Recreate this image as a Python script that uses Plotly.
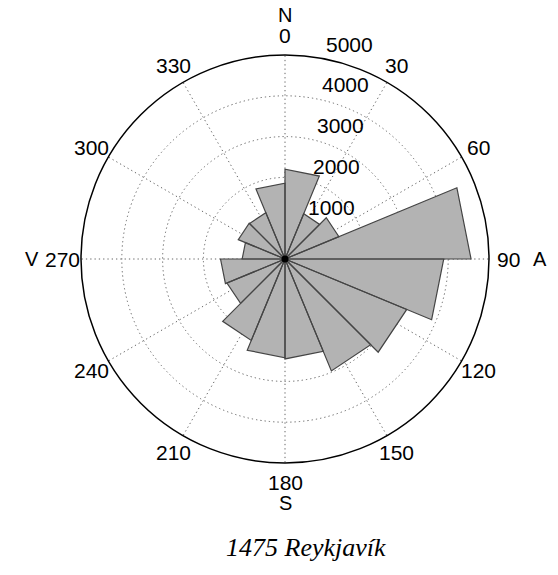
import math
import plotly.graph_objects as go

# Wind-rose data: 16 sectors of 22.5 deg, starting at north, clockwise
sector_start = [0, 22.5, 45, 67.5, 90, 112.5, 135, 157.5,
                180, 202.5, 225, 247.5, 270, 292.5, 315, 337.5]
sector_width = 22.5
counts = [2200, 1200, 1430, 4560, 3890, 3230, 2970, 2450,
          2420, 2160, 1540, 1580, 1050, 1240, 1230, 1860]

angle_ticks = [0, 30, 60, 90, 120, 150, 180, 210, 240, 270, 300, 330]
angle_labels = [str(a) for a in angle_ticks]
radial_ticks = [1000, 2000, 3000, 4000, 5000]
radial_labels = [str(v) for v in radial_ticks]
compass = [("N", 0), ("A", 90), ("S", 180), ("V", 270)]
r_max = 5000
caption = "1475 Reykjavík"

W, H = 558, 575
cx, cy, R = 285, 259, 204  # circle geometry in pixels

fig = go.Figure()

# sectors as straight-edged triangles (like MATLAB rose)
rs, ths = [], []
for a0, v in zip(sector_start, counts):
    rs += [0, v, v, 0, None]
    ths += [a0, a0, a0 + sector_width, a0 + sector_width, None]
fig.add_trace(go.Scatterpolar(
    r=rs, theta=ths, mode="lines", fill="toself",
    fillcolor="#b3b3b3", line=dict(color="#454545", width=1.2),
    hoverinfo="skip", showlegend=False))

# pole dot
fig.add_trace(go.Scatterpolar(
    r=[0], theta=[0], mode="markers",
    marker=dict(color="black", size=7), hoverinfo="skip", showlegend=False))

grid_dash = "1.3px,3px"
fig.update_layout(
    width=W, height=H, margin=dict(l=0, r=0, t=0, b=0),
    paper_bgcolor="white", plot_bgcolor="white",
    polar=dict(
        domain=dict(x=[(cx - R) / W, (cx + R) / W],
                    y=[(H - cy - R) / H, (H - cy + R) / H]),
        bgcolor="white",
        angularaxis=dict(
            rotation=90, direction="clockwise",
            tickmode="array", tickvals=angle_ticks, ticktext=angle_labels,
            ticks="", showticklabels=False,
            showline=True, linecolor="black", linewidth=1.5,
            showgrid=True, gridcolor="#666666", gridwidth=1.3, griddash=grid_dash,
        ),
        radialaxis=dict(
            range=[0, r_max], tickmode="array", tickvals=radial_ticks,
            showticklabels=False, ticks="", showline=False,
            showgrid=True, gridcolor="#666666", gridwidth=1.3, griddash=grid_dash,
        ),
    ),
)

def add_text(txt, px, py, size=21, xanchor="center"):
    fig.add_annotation(text=txt, x=px / W, y=1 - py / H, xref="paper", yref="paper",
                       showarrow=False, xanchor=xanchor, yanchor="middle",
                       font=dict(family="Liberation Sans, Arial", size=size, color="black"))

# angular labels at ~1.09 R
lab_d = 223
for a, txt in zip(angle_ticks, angle_labels):
    t = math.radians(a)
    add_text(txt, cx + lab_d * math.sin(t), cy - lab_d * math.cos(t))

# compass letters further out
comp_d = {0: 244, 90: 255, 180: 244, 270: 253}
for txt, a in compass:
    t = math.radians(a)
    d = comp_d[a]
    add_text(txt, cx + d * math.sin(t), cy - d * math.cos(t), size=20)

# radial labels: right of the north spoke, just above each ring
for v, txt in zip(radial_ticks, radial_labels):
    rp = v / r_max * R
    add_text(txt, cx + 17 + 0.11 * rp, cy - rp - 11, xanchor="left")

fig.add_annotation(text="<i>" + caption + "</i>", x=306 / W, y=1 - 547 / H,
                   xref="paper", yref="paper", showarrow=False,
                   font=dict(family="Liberation Serif, Times New Roman", size=26, color="black"),
                   xanchor="center", yanchor="middle")

fig.write_html("out.html")
